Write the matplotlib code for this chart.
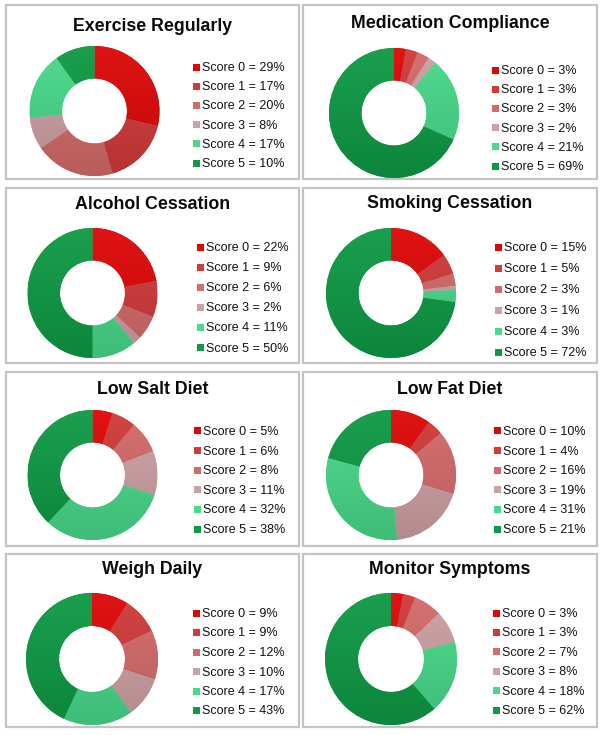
import numpy as np
import matplotlib
matplotlib.use("Agg")
import matplotlib.pyplot as plt
from matplotlib.patches import Rectangle
from matplotlib.colors import to_rgb

# ---- data ----
titles = ["Exercise Regularly", "Medication Compliance", "Alcohol Cessation",
          "Smoking Cessation", "Low Salt Diet", "Low Fat Diet",
          "Weigh Daily", "Monitor Symptoms"]
scores = ["Score 0", "Score 1", "Score 2", "Score 3", "Score 4", "Score 5"]
exercise = [29, 17, 20, 8, 17, 10]
medication = [3, 3, 3, 2, 21, 69]
alcohol = [22, 9, 6, 2, 11, 50]
smoking = [15, 5, 3, 1, 3, 72]
low_salt = [5, 6, 8, 11, 32, 38]
low_fat = [10, 4, 16, 19, 31, 21]
weigh = [9, 9, 12, 10, 17, 43]
monitor = [3, 3, 7, 8, 18, 62]
series = [exercise, medication, alcohol, smoking, low_salt, low_fat, weigh, monitor]

colors = ["#DE0707", "#D23A3A", "#D46A6A", "#CDA0A4", "#48D98A", "#0E9A45"]

W, H = 604, 735
fig = plt.figure(figsize=(W / 100, H / 100), dpi=100)
fig.patch.set_facecolor("white")

def fx(x):
    return x / W

def fy(y):
    return 1 - y / H

# panel boxes (pixel coords, top-left origin)
cols = [(6, 299), (303, 597)]
rows = [(5, 179), (188, 363), (372, 546), (554, 727)]

# per-panel layout: title baseline, donut center, radius, legend first row y, spacing, legend text x
layout = [
    dict(tb=31, cx=94.5, cy=111, r=65, ly=68, ls=19.2, lx=202),
    dict(tb=28, cx=394, cy=113, r=65, ly=71, ls=19.2, lx=501),
    dict(tb=209, cx=92.5, cy=293, r=65, ly=248, ls=20.1, lx=206),
    dict(tb=208, cx=391, cy=293, r=65, ly=248, ls=21.0, lx=504),
    dict(tb=394, cx=92.5, cy=475, r=65, ly=432, ls=19.6, lx=203),
    dict(tb=394, cx=391, cy=475, r=65, ly=432, ls=19.6, lx=503),
    dict(tb=574, cx=92, cy=659, r=66, ly=614, ls=19.5, lx=202),
    dict(tb=574, cx=391, cy=659, r=66, ly=614, ls=19.4, lx=502),
]

def shade(c, f):
    c = np.array(to_rgb(c))
    if f >= 1:
        return c + (1 - c) * (f - 1)
    return c * f

for i, (title, vals) in enumerate(zip(titles, series)):
    col = cols[i % 2]
    row = rows[i // 2]
    # border
    rect = Rectangle((fx(col[0]), fy(row[1])), fx(col[1] - col[0]), (row[1] - row[0]) / H,
                     transform=fig.transFigure, facecolor="none",
                     edgecolor="#c4c4c4", linewidth=1.6, zorder=-1)
    fig.patches.append(rect)
    L = layout[i]
    # title
    fig.text(fx((col[0] + col[1]) / 2), fy(L["tb"]), title, ha="center", va="baseline",
             fontsize=12.8, fontweight="bold", family="Liberation Sans", color="#0a0a0a")
    # donut
    r = L["r"]
    ax = fig.add_axes([fx(L["cx"] - r), fy(L["cy"] + r), fx(2 * r), 2 * r / H])
    wedges, _ = ax.pie(vals, colors=colors, startangle=90, counterclock=False,
                       radius=1, wedgeprops=dict(width=0.5, edgecolor="none"))
    t = np.linspace(0, 1, 200)[:, None]
    for w, c in zip(wedges, colors):
        top = shade(c, 1.05)
        bot = shade(c, 0.87)
        grad = top[None, None, :] * (1 - t[..., None]) + bot[None, None, :] * t[..., None]
        grad = np.repeat(grad, 2, axis=1)
        im = ax.imshow(np.clip(grad, 0, 1), extent=[-1, 1, -1, 1], origin="upper",
                       aspect="auto", zorder=w.get_zorder() + 0.1, interpolation="bilinear")
        im.set_clip_path(w)
    ax.set_xlim(-1.0, 1.0)
    ax.set_ylim(-1.0, 1.0)
    ax.set_aspect("equal")
    ax.axis("off")
    # legend
    for k, (s, v) in enumerate(zip(scores, vals)):
        yy = L["ly"] + k * L["ls"]
        fig.patches.append(Rectangle((fx(L["lx"] - 9), fy(yy + 2.5)), fx(7), 7 / H,
                                     transform=fig.transFigure, facecolor=colors[k],
                                     edgecolor="none", zorder=2))
        fig.text(fx(L["lx"]), fy(yy), f"{s} = {v}%", ha="left", va="center",
                 fontsize=9, family="Liberation Sans", color="#111111")

fig.savefig("out.png", dpi=100, facecolor="white")
